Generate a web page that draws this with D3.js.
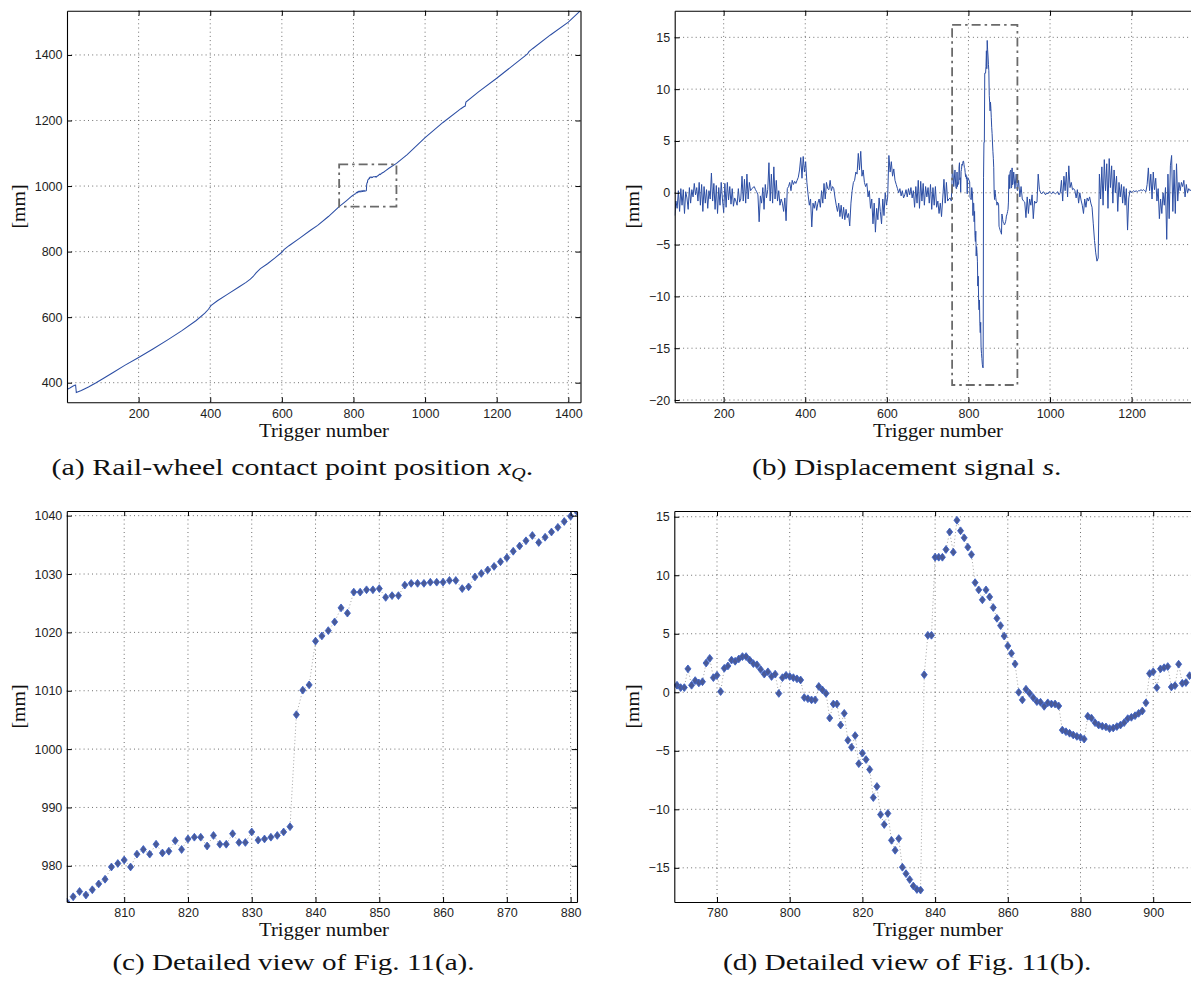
<!DOCTYPE html>
<html><head><meta charset="utf-8">
<script src="https://cdn.jsdelivr.net/npm/d3@7"></script>
<style>body{margin:0;background:#fff}</style>
</head><body><script>
// ---------- DATA ----------
// (a) contact point position x_Q (coarse samples outside the detailed window)
const aTrigPre = [1, 8, 16, 23, 24, 26, 40, 60, 80, 100, 130, 160, 200, 240, 280, 320, 360, 385, 395, 402, 420, 450, 480, 500, 512, 520, 528, 540, 560, 580, 600, 606, 620, 650, 680, 700, 730, 760, 780, 795];
const aPosPre  = [380, 384, 389, 393, 393, 370, 376, 387, 399, 412, 432, 452, 477, 503, 530, 558, 589, 612, 624, 635, 650, 671, 692, 706, 716, 724, 735, 748, 763, 780, 798, 806, 818, 841, 865, 880, 907, 937, 955, 969];
const aTrigPost = [884, 890, 900, 920, 950, 1000, 1050, 1100, 1108, 1112, 1114, 1150, 1200, 1250, 1280, 1286, 1290, 1300, 1350, 1400, 1434];
const aPosPost  = [1042, 1047, 1055, 1069, 1096, 1148, 1194, 1236, 1242, 1244, 1256, 1288, 1329, 1372, 1398, 1403, 1410, 1419, 1461, 1500, 1535];
// (c) detailed x_Q, triggers 801..881
const cStart = 801;
const cPos = [973.8, 974.7, 975.6, 975.0, 975.9, 976.9, 977.7, 979.8, 980.4, 981.0,
  979.8, 982.0, 982.8, 982.0, 983.7, 982.2, 982.5, 984.3, 982.8, 984.6,
  984.9, 984.9, 983.4, 985.2, 983.7, 983.7, 985.5, 984.0, 984.0, 985.8,
  984.4, 984.6, 984.9, 985.2, 985.8, 986.7, 1005.9, 1010.1, 1011.0, 1018.5,
  1019.4, 1020.3, 1021.8, 1024.2, 1023.3, 1026.9, 1026.9, 1027.3, 1027.3, 1027.5,
  1026.0, 1026.3, 1026.3, 1028.1, 1028.4, 1028.4, 1028.4, 1028.6, 1028.6, 1028.6,
  1028.9, 1028.9, 1027.5, 1027.8, 1029.5, 1030.1, 1030.7, 1031.3, 1032.1, 1032.8,
  1033.9, 1034.8, 1035.7, 1036.6, 1035.4, 1036.3, 1037.2, 1038.0, 1039.0, 1039.9,
  1040.7];
// (d) detailed displacement s, triggers 769..910
const dStart = 769;
const dVal = [0.6, 0.4, 0.4, 2.0, 0.6, 1.0, 0.8, 0.9, 2.5, 2.9,
  1.25, 1.45, 0.06, 2.05, 2.25, 2.75, 2.65, 2.85, 3.05, 3.05,
  2.75, 2.45, 2.35, 1.95, 1.55, 1.75, 1.35, 1.55, -0.1, 1.25,
  1.45, 1.35, 1.25, 1.15, 1.05, -0.45, -0.55, -0.65, -0.65, 0.5,
  0.2, -0.1, -2.2, -1.0, -1.0, -2.8, -1.8, -4.1, -4.7, -3.7,
  -6.1, -5.2, -5.75, -6.6, -9.0, -8.05, -10.45, -11.3, -10.35, -12.65,
  -13.5, -12.5, -14.95, -15.5, -16.0, -16.55, -16.85, -16.9, 1.5, 4.87,
  4.87, 11.54, 11.54, 11.54, 12.2, 13.7, 11.97, 14.7, 13.8, 13.2,
  12.4, 11.77, 9.37, 8.75, 7.9, 8.75, 8.15, 7.24, 6.32, 5.7,
  4.8, 3.96, 3.33, 2.42, 0.0, -0.65, 0.26, -0.09, -0.46, -0.8,
  -0.85, -1.2, -0.9, -1.0, -1.0, -1.17, -3.23, -3.37, -3.5, -3.65,
  -3.77, -3.86, -4.0, -2.05, -2.2, -2.6, -2.8, -2.9, -2.96, -3.1,
  -3.05, -2.93, -2.8, -2.6, -2.25, -2.14, -2.0, -1.8, -1.6, -0.9,
  1.6, 1.75, 0.4, 2.0, 2.1, 2.2, 0.45, 0.57, 2.4, 0.77,
  0.83, 1.42];
// (b) displacement s outside the detailed window, every 3rd trigger
const bLeftStart = 80, bStep = 3;
const bLeft = [-2.2, -0.8, -1.5, 0.2, -1.8, 0.4, -1.2, 0.3, -2.0, 0.1,
  -0.5, -1.6, 0.5, -1.0, 0.3, -0.4, 0.9, -0.2, 0.5, -0.8,
  1.0, -1.2, 0.8, -1.8, 0.6, -1.0, 0.3, -1.5, 0.2, -0.6,
  1.9, -0.8, 0.9, -1.6, 0.7, -2.0, 0.5, -1.2, 1.0, -0.6,
  -1.9, 0.9, -1.4, 1.0, -0.7, 0.6, -1.1, 0.4, -1.3, -0.5,
  -0.8, -1.2, 0.4, -0.9, -0.6, 1.6, -0.8, 1.3, -1.0, 1.8,
  -0.6, 1.0, 0.2, 0.4, 0.5, 0.6, 0.3, 0.1, -0.2, -2.8,
  -0.3, -1.0, 0.5, -1.6, 0.8, -0.5, 0.3, 2.9, -0.8, 1.8,
  -1.0, 2.5, -0.6, 1.2, -0.8, 0.2, -1.2, -0.6, -1.0, -1.8,
  -0.5, -2.7, 0.4, 0.6, 1.0, 0.2, 1.2, 0.8, 1.1, 0.9,
  1.2, 1.5, 2.2, 3.4, 1.4, 3.5, 2.0, 3.0, 1.0, -0.2,
  -1.2, -0.6, -3.3, -1.0, -1.5, -0.8, -1.7, -1.0, -0.6, -1.4,
  0.2, -1.0, 0.9, -0.6, 1.0, 0.4, 0.3, 1.2, 0.2, 0.6,
  0.4, -0.5, -1.2, -1.8, -1.0, -2.3, -1.2, -2.5, -1.4, -2.6,
  -1.6, -2.4, -2.0, -3.2, -1.0, 0.2, 1.0, 1.2, 2.0, 1.8,
  3.8, 2.2, 4.0, 1.6, 2.2, 1.0, 0.6, 0.9, -0.4, 0.2,
  -1.5, -0.6, -3.0, -1.0, -3.8, -1.5, -2.6, -0.5, -1.8, -3.0,
  -0.6, -2.2, 0.0, -1.2, -0.4, 3.6, 2.0, 3.0, 1.6, 2.3,
  1.2, 0.8, 0.4, 0.0, 0.4, -0.3, 0.2, -0.5, -0.2, 0.3,
  -0.4, 0.4, -0.2, 0.5, -0.5, 0.2, -1.4, 0.6, -1.0, 1.2,
  -1.5, 1.1, -0.8, 0.9, -1.2, 0.6, -0.4, 0.5, -1.0, 0.8,
  -1.6, 0.5, -1.2, 0.6, -1.4, -0.8, -2.0, -1.0, -2.3, -0.5,
  1.3, -1.0, 1.0, -0.8, -0.6, -0.5, -0.8, 2.7, 0.6, 2.2];
const bRightStart = 911;
const bRight = [2.0, 0.4, 1.8, 0.2, 1.2, -0.4, 0.6, -0.6, -0.8, -0.9,
  -2.4, -0.4, -2.0, -0.6, -1.2, -0.2, -2.5, -0.8, -1.0, -0.9,
  1.8, 0.3, 0.0, -0.1, 0.1, 0.0, -0.2, 0.0, -0.1, 0.1,
  0.0, -0.1, 0.1, 0.0, -0.1, 0.0, 0.1, -0.2, 0.0, 1.2,
  -0.8, 1.6, 0.2, 2.0, -0.4, 2.6, 0.5, 1.0, 0.3, 0.4,
  0.2, -0.5, 0.3, -1.0, 0.0, -0.7, -1.2, -2.0, -0.6, -1.4,
  -0.5, -0.8, -0.4, -1.0, -1.4, -3.0, -4.6, -5.8, -6.6, -6.3,
  1.8, -0.6, 2.5, -1.2, 3.2, 0.2, 2.8, -1.5, 3.3, 0.5,
  2.6, -1.0, 2.2, 0.0, 1.6, -1.8, 1.0, -0.4, 0.8, -1.0,
  0.6, -1.2, 0.4, -3.6, -0.5, 0.2, 0.0, 0.1, 0.2, 0.1,
  0.2, 0.1, 0.2, 0.2, 0.3, 0.2, 0.3, 0.2, 0.1, 0.8,
  2.4, 0.2, 1.8, -0.6, 2.0, 0.3, 1.4, -0.8, 0.4, -2.5,
  -0.6, -2.0, 0.0, -1.2, 0.5, -4.5, 1.8, -2.5, 2.6, 3.6,
  -1.8, 2.2, -2.0, 2.8, -0.8, 1.0, 0.2, 1.0, 0.6, 1.2,
  -0.4, 0.8, 0.0, 0.4, 0.2, 0.3, 0.3];
// zoom windows (dash-dot boxes)
const aBox = [760, 920, 937, 1066];
const bBox = [760, 920, -18.55, 16.2];
// ticks
const aXTicks = [200, 400, 600, 800, 1000, 1200, 1400];
const aYTicks = [400, 600, 800, 1000, 1200, 1400];
const bXTicks = [200, 400, 600, 800, 1000, 1200];
const bYTicks = [-20, -15, -10, -5, 0, 5, 10, 15];
const cXTicks = [810, 820, 830, 840, 850, 860, 870, 880];
const cYTicks = [980, 990, 1000, 1010, 1020, 1030, 1040];
const dXTicks = [780, 800, 820, 840, 860, 880, 900];
const dYTicks = [-15, -10, -5, 0, 5, 10, 15];
const captions = ["(a) Rail-wheel contact point position ", "(b) Displacement signal ", "(c) Detailed view of Fig. 11(a).", "(d) Detailed view of Fig. 11(b)."];

// ---------- DRAW ----------
const W = 1191, H = 986;
const svg = d3.select("body").append("svg").attr("width", W).attr("height", H);
const LINE = "#2c4ea4";
const SANS = "'Liberation Sans', Arial, Helvetica, sans-serif";
const SERIF = "'Liberation Serif', 'Times New Roman', serif";
const fmt = d3.format("d");

function panel(o) {
  const x = d3.scaleLinear().domain(o.xd).range([o.l, o.r]);
  const y = d3.scaleLinear().domain(o.yd).range([o.b, o.t]);
  const g = svg.append("g");
  const cid = "clip" + o.id;
  svg.append("clipPath").attr("id", cid).append("rect")
    .attr("x", o.l).attr("y", o.t).attr("width", o.r - o.l).attr("height", o.b - o.t);
  const grid = g.append("g").attr("stroke", "#404040").attr("stroke-width", 0.75).attr("stroke-dasharray", "1,3.2");
  o.xt.forEach(v => grid.append("line").attr("x1", x(v)).attr("x2", x(v)).attr("y1", o.t).attr("y2", o.b));
  o.yt.forEach(v => grid.append("line").attr("x1", o.l).attr("x2", o.r).attr("y1", y(v)).attr("y2", y(v)));
  const plot = g.append("g").attr("clip-path", `url(#${cid})`);
  const ax = g.append("g");
  const styleAxis = s => {
    s.attr("color", "#000").attr("font-family", SANS).attr("font-size", 12.5);
    s.selectAll(".domain").attr("stroke-width", 1.1);
    s.selectAll("text").attr("fill", "#1e1e1e");
  };
  ax.append("g").attr("transform", `translate(0,${o.b})`)
    .call(d3.axisBottom(x).tickValues(o.xt).tickSizeInner(-5).tickSizeOuter(0).tickPadding(6.5).tickFormat(fmt)).call(styleAxis);
  ax.append("g").attr("transform", `translate(0,${o.t})`)
    .call(d3.axisTop(x).tickValues(o.xt).tickSizeInner(-5).tickSizeOuter(0).tickFormat("")).call(styleAxis);
  ax.append("g").attr("transform", `translate(${o.l},0)`)
    .call(d3.axisLeft(y).tickValues(o.yt).tickSizeInner(-5).tickSizeOuter(0).tickPadding(4.5).tickFormat(fmt)).call(styleAxis);
  ax.append("g").attr("transform", `translate(${o.r},0)`)
    .call(d3.axisRight(y).tickValues(o.yt).tickSizeInner(-5).tickSizeOuter(0).tickFormat("")).call(styleAxis);
  // axis labels
  svg.append("text").attr("x", o.labelX).attr("y", o.b + 34.4)
    .attr("text-anchor", "middle").attr("font-family", SERIF).attr("font-size", 19).attr("fill", "#111")
    .attr("textLength", 130).attr("lengthAdjust", "spacingAndGlyphs").text("Trigger number");
  svg.append("text").attr("transform", `translate(${o.yLabelX},${(o.t + o.b) / 2}) rotate(-90)`)
    .attr("text-anchor", "middle").attr("font-family", SERIF).attr("font-size", 19).attr("fill", "#111")
    .attr("textLength", 44).attr("lengthAdjust", "spacingAndGlyphs").text("[mm]");
  return { x, y, plot };
}

function dashBox(p, b) {
  p.plot.append("rect").attr("x", p.x(b[0])).attr("y", p.y(b[3]))
    .attr("width", p.x(b[1]) - p.x(b[0])).attr("height", p.y(b[2]) - p.y(b[3]))
    .attr("fill", "none").attr("stroke", "#6a6a6a").attr("stroke-width", 1.8)
    .attr("stroke-dasharray", "9,4,2.5,4");
}

// assemble series
const cPts = cPos.map((v, i) => [cStart + i, v]);
const aPts = aTrigPre.map((t, i) => [t, aPosPre[i]]).concat(cPts, aTrigPost.map((t, i) => [t, aPosPost[i]]));
const dPts = dVal.map((v, i) => [dStart + i, v]);
const bPts = bLeft.map((v, i) => [bLeftStart + i * bStep, v]).concat(dPts, bRight.map((v, i) => [bRightStart + i * bStep, v]));

// (a)
const pa = panel({ id: "a", l: 67, r: 580.5, t: 10.7, b: 402.3, xd: [0, 1434], yd: [340.2, 1535], xt: aXTicks, yt: aYTicks, labelX: 324, yLabelX: 25 });
pa.plot.append("path").datum(aPts).attr("fill", "none").attr("stroke", LINE).attr("stroke-width", 1.05)
  .attr("d", d3.line().x(d => pa.x(d[0])).y(d => pa.y(d[1])));
dashBox(pa, aBox);

// (b)
const pb = panel({ id: "b", l: 674.7, r: 1227.1, t: 10.7, b: 402.3, xd: [80, 1434], yd: [-20.22, 17.57], xt: bXTicks, yt: bYTicks, labelX: 938, yLabelX: 639 });
pb.plot.append("path").datum(bPts).attr("fill", "none").attr("stroke", LINE).attr("stroke-width", 1.0)
  .attr("d", d3.line().x(d => pb.x(d[0])).y(d => pb.y(d[1])));
dashBox(pb, bBox);

// markers
const diamond = "M0,-3.9L3,0L0,3.9L-3,0Z";
function markers(p, pts) {
  p.plot.append("path").datum(pts).attr("fill", "none").attr("stroke", "#8c8c8c").attr("stroke-width", 0.8)
    .attr("stroke-dasharray", "1,2.4").attr("d", d3.line().x(d => p.x(d[0])).y(d => p.y(d[1])));
  p.plot.selectAll("path.mk").data(pts).join("path").attr("class", "mk").attr("d", diamond)
    .attr("transform", d => `translate(${p.x(d[0])},${p.y(d[1])})`)
    .attr("fill", "#4a5a96").attr("stroke", "#3c62c8").attr("stroke-width", 0.9);
}

// (c)
const pc = panel({ id: "c", l: 66.8, r: 577, t: 511, b: 902, xd: [801, 881], yd: [973.8, 1040.8], xt: cXTicks, yt: cYTicks, labelX: 324, yLabelX: 25 });
markers(pc, cPts);

// (d)
const pd = panel({ id: "d", l: 674.3, r: 1227, t: 511, b: 902, xd: [768.25, 920.3], yd: [-17.92, 15.49], xt: dXTicks, yt: dYTicks, labelX: 938, yLabelX: 639 });
markers(pd, dPts);

// captions
function caption(x0, yb, width, build) {
  const t = svg.append("text").attr("x", x0).attr("y", yb).attr("font-family", SERIF).attr("font-size", 24).attr("fill", "#111");
  build(t);
  const w = t.node().getBBox().width;
  t.attr("transform", `translate(${x0},0) scale(${width / w},1) translate(${-x0},0)`);
}
caption(51.6, 475, 482, t => {
  t.append("tspan").text(captions[0]);
  t.append("tspan").attr("font-style", "italic").text("x");
  t.append("tspan").attr("font-style", "italic").attr("font-size", 16).attr("dy", 4).text("Q");
  t.append("tspan").attr("dy", -4).text(".");
});
caption(752, 475, 309.5, t => {
  t.append("tspan").text(captions[1]);
  t.append("tspan").attr("font-style", "italic").text("s");
  t.append("tspan").text(".");
});
caption(112.4, 970, 362.3, t => t.text(captions[2]));
caption(723, 970, 368.5, t => t.text(captions[3]));
</script></body></html>
